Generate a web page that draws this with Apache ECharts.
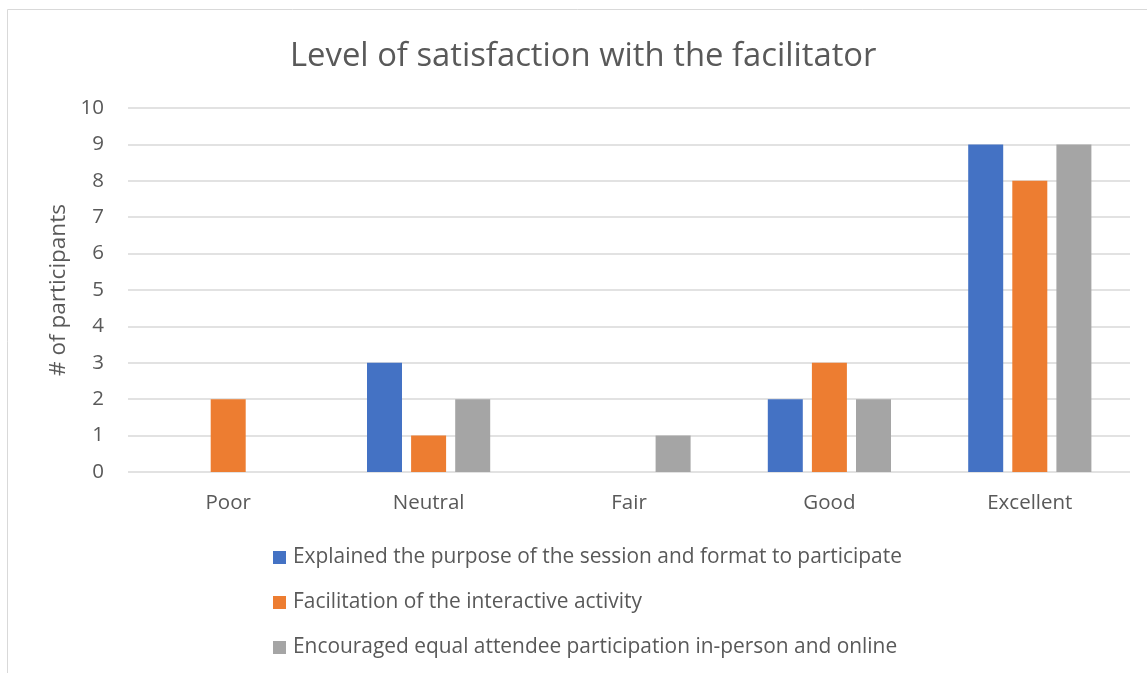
<!DOCTYPE html>
<html>
<head>
<meta charset="utf-8">
<script src="https://cdn.jsdelivr.net/npm/echarts@6/dist/echarts.min.js"></script>
<style>
  html, body { margin: 0; padding: 0; background: #fff; }
  #chart { width: 1147px; height: 673px; }
</style>
</head>
<body>
<div id="chart"></div>
<script>
// 分类与数据
var categories = ["Poor", "Neutral", "Fair", "Good", "Excellent"];
var seriesNames = [
  "Explained the purpose of the session and format to participate",
  "Facilitation of the interactive activity",
  "Encouraged equal attendee participation in-person and online"
];
var explainedVals = [0, 3, 0, 2, 9];
var facilitationVals = [2, 1, 0, 3, 8];
var encouragedVals = [0, 2, 1, 2, 9];
var colors = ["#4472C4", "#ED7D31", "#A5A5A5"];

var font = "'Open Sans', 'Noto Sans', sans-serif";
var textColor = "#595959";

var chart = echarts.init(document.getElementById("chart"));

function barSeries(name, data, color) {
  return {
    name: name,
    type: "bar",
    data: data,
    barWidth: 35,
    barGap: "26%",
    itemStyle: { color: color },
    animation: false
  };
}

chart.setOption({
  animation: false,
  color: colors,
  graphic: [{
    type: "rect",
    shape: { x: 7.5, y: 9.5, width: 1200, height: 700 },
    style: { fill: "none", stroke: "#d9d9d9", lineWidth: 1 }
  }],
  title: {
    text: "Level of satisfaction with the facilitator",
    left: 285,
    top: 35,
    textStyle: { fontFamily: font, fontSize: 32.8, fontWeight: "normal", color: textColor }
  },
  grid: { left: 128, right: 17, top: 108, bottom: 201, containLabel: false },
  legend: {
    orient: "vertical",
    left: 273,
    top: 547,
    padding: 0,
    itemWidth: 13,
    itemHeight: 13,
    itemGap: 24,
    icon: "rect",
    textStyle: { fontFamily: font, fontSize: 20.9, color: textColor, padding: [0, 0, 0, 2] },
    data: seriesNames
  },
  xAxis: {
    type: "category",
    data: categories,
    axisLine: { show: false },
    axisTick: { show: false },
    axisLabel: { fontFamily: font, fontSize: 20.5, color: textColor, margin: 21 }
  },
  yAxis: {
    type: "value",
    min: 0,
    max: 10,
    interval: 1,
    name: "# of participants",
    nameLocation: "middle",
    nameGap: 56,
    nameRotate: 90,
    nameTextStyle: { fontFamily: font, fontSize: 22.5, color: textColor },
    axisLine: { show: false },
    axisTick: { show: false },
    axisLabel: { fontFamily: font, fontSize: 20.5, color: textColor, margin: 24 },
    splitLine: { lineStyle: { color: "#d9d9d9", width: 1.5 } }
  },
  series: [
    barSeries(seriesNames[0], explainedVals, colors[0]),
    barSeries(seriesNames[1], facilitationVals, colors[1]),
    barSeries(seriesNames[2], encouragedVals, colors[2])
  ]
});
</script>
</body>
</html>
